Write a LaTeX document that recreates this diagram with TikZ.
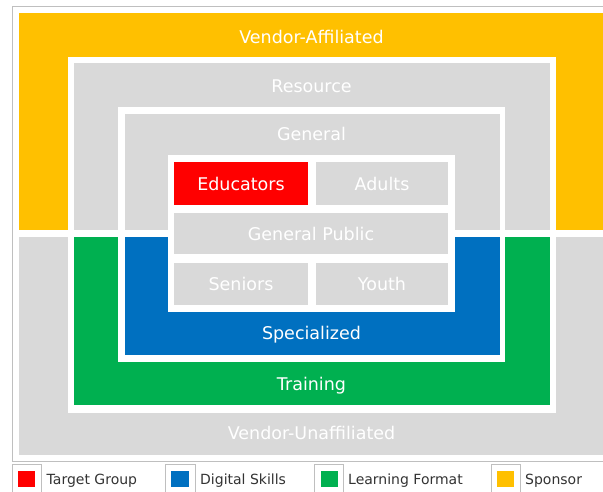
\documentclass[tikz,border=0pt]{standalone}
\usepackage{fontspec}
\setmainfont{DejaVu Sans}
\definecolor{cyellow}{HTML}{FFC000}
\definecolor{cred}{HTML}{FF0000}
\definecolor{cblue}{HTML}{0070C0}
\definecolor{cgreen}{HTML}{00B050}
\definecolor{cgray}{HTML}{D9D9D9}
\definecolor{cline}{HTML}{BFBFBF}
\definecolor{ctext}{HTML}{333333}
\begin{document}
\begin{tikzpicture}[x=1pt,y=-1pt,
  lbl/.style={anchor=base,text=white,inner sep=0pt,font=\fontsize{17.5}{20}\selectfont},
  leg/.style={anchor=base west,inner sep=0pt,text=ctext,font=\fontsize{14}{16}\selectfont},
  legbox/.style={draw=cline,line width=0.8pt,fill=white}]
\useasboundingbox (0,0) rectangle (603,491);
\clip (0,0) rectangle (603,491);
\fill[white] (0,0) rectangle (603,491);
% outer frame
\draw[cline,line width=0.8pt] (12.7,6) rectangle (610,461);
% sponsor halves
\fill[cyellow] (19,13) rectangle (604,230);
\fill[cgray] (19,237) rectangle (604,455);
% learning format frame
\fill[white] (67.7,56.7) rectangle (556,412.7);
\fill[cgray] (74,63) rectangle (550,230);
\fill[cgreen] (74,237) rectangle (550,404.5);
% digital skills frame
\fill[white] (118,107) rectangle (505,362);
\fill[cgray] (125,113.5) rectangle (500,230);
\fill[cblue] (125,237) rectangle (500,355);
% target groups
\fill[white] (168,155) rectangle (455,312);
\fill[cred] (174,162) rectangle (308,205);
\fill[cgray] (316,162) rectangle (448,205);
\fill[cgray] (174,213) rectangle (448,254);
\fill[cgray] (174,263) rectangle (308,305);
\fill[cgray] (316,263) rectangle (448,305);
% labels
\node[lbl] (vaff) at (311.5,43) {Vendor-Affiliated};
\node[lbl] (res) at (311.5,92) {Resource};
\node[lbl] (gen) at (311.5,140.5) {General};
\node[lbl] (edu) at (241,190) {Educators};
\node[lbl] (adu) at (382,190) {Adults};
\node[lbl] (gpub) at (311,240) {General Public};
\node[lbl] (sen) at (241,290) {Seniors};
\node[lbl] (you) at (382,290) {Youth};
\node[lbl] (spec) at (311.5,339.5) {Specialized};
\node[lbl] (train) at (311.5,390) {Training};
\node[lbl] (vunaff) at (311.5,439) {Vendor-Unaffiliated};
% legend
\draw[legbox] (12.7,464) rectangle (41.5,495);
\fill[cred] (18,471) rectangle (35.4,486.5);
\node[leg] (lg1) at (46.5,484) {Target Group};
\draw[legbox] (165.4,464) rectangle (195.4,495);
\fill[cblue] (171,471) rectangle (188.5,486.5);
\node[leg] (lg2) at (200,484) {Digital Skills};
\draw[legbox] (314.6,464) rectangle (343.5,495);
\fill[cgreen] (321,471) rectangle (337.5,486.5);
\node[leg] (lg3) at (348,484) {Learning Format};
\draw[legbox] (491,464) rectangle (520,495);
\fill[cyellow] (497,471) rectangle (514,486.5);
\node[leg] (lg4) at (525,484) {Sponsor};
\end{tikzpicture}
\end{document}
